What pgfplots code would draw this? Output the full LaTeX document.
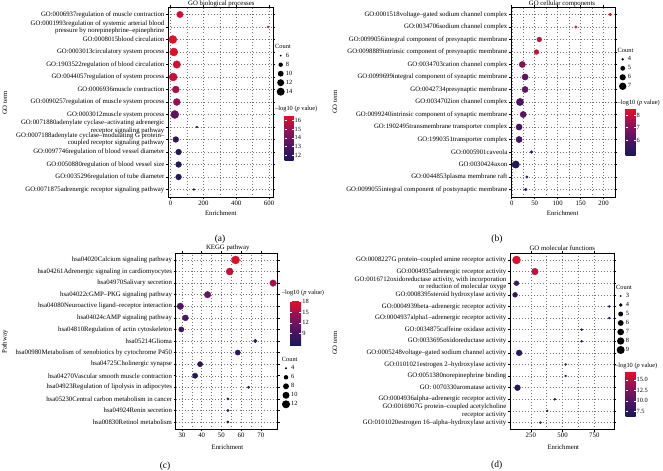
\documentclass[border=0pt]{standalone}
\usepackage{fontspec}
\setmainfont{Liberation Serif}
\usepackage{pgfplots}
\usepackage{pgfplotstable}
\pgfplotsset{compat=1.18}
\newcommand\fs{\fontsize{6.8}{7.3}\selectfont}
\newcommand\fl{\fontsize{6.4}{7}\selectfont}
\newcommand\fc{\fontsize{9.5}{11}\selectfont}

% y = row position counted from the bottom (top row = 15)
\pgfplotstableread{
x y c p
57 15 11 16.2
594 14 6 16.4
14 13 14 16.5
20 12 14 16.4
38 11 13 16.2
16 10 14 15.9
32 9 12 15.2
38 8 12 14.8
26 7 14 13.6
160 6 6 12.0
32 5 10 12.1
49 4 10 11.8
49 3 10 11.8
49 2 10 11.8
142 1 6 11.6
}\tabA
\pgfplotstableread{
x y c p
214.6 15 4 8.5
139.7 14 4 8.3
60 13 5 8.0
53.8 12 5 8.1
23 11 6 7.0
29 10 6 6.3
29 9 6 6.3
18 8 7 6.0
25 7 6 6.2
16 6 6 5.8
16 5 6 5.8
43 4 4 5.2
8.7 3 7 5.0
33 2 4 5.2
30.5 1 4 5.1
}\tabB
\pgfplotstableread{
x y c p
57.2 15 12 18
54.2 14 10 16.5
76.2 13 9 14.8
43 12 9 11.5
29.2 11 9 10.2
31.8 10 8 9.2
29.7 9 7 8.3
67.2 8 5 7.0
58.3 7 7 7.2
39.2 6 7 7.0
36.7 5 7 7.0
63.8 4 4 6.5
53.3 3 4 6.5
53.3 2 4 6.5
53.3 1 4 6.5
}\tabC
\pgfplotstableread{
x y c p
137 15 9 16.5
282 14 7 15.5
137 13 5 8.8
126 12 5 8.6
868 11 3 7.0
868 10 3 7.0
650 9 3 7.0
650 8 3 7.0
158 7 6 7.4
524 6 3 6.8
524 5 3 6.8
145 4 6 7.4
439 3 3 6.8
379 2 3 6.8
326 1 3 6.8
}\tabD

\pgfplotsset{
  colormap={bcm}{rgb255=(26,24,88) rgb255=(80,20,100) rgb255=(150,18,85) rgb255=(232,14,38)},
  cnt/.style={legend image code/.code={\path[draw=none,fill=none] (-4.2bp,-4.5bp) rectangle (4.2bp,4.5bp);\fill[black,draw=none] (0,0) circle[radius=#1];}},
  bub/.style={
    scale only axis, anchor=north west,
    ymin=0.4, ymax=15.6, ytick={1,...,15},
    grid=both, minor x tick num=1,
    grid style={black!55, line width=0.45pt, dash pattern=on 0.45pt off 2.6pt},
    tick align=outside, major tick length=2bp, minor tick length=0pt,
    tick style={black, line width=0.5pt},
    axis line style={black, line width=0.7pt},
    xticklabel style={font=\fs, inner sep=1.5bp},
    yticklabel style={font=\fs, align=right, inner sep=1.5bp},
    /pgf/number format/assume math mode=true,
    colormap name=bcm,
    clip=false,
    legend style={draw=none, fill=none, inner sep=0pt, outer sep=0pt, font=\fl,
      anchor=north west, nodes={inner sep=1bp}, row sep=0pt},
    legend cell align=left,
    colorbar,
  },
  cbar/.style={
    at={(parent axis.north east)}, anchor=north west,
    scale only axis,
    ytick pos=both, yticklabel pos=right,
    axis line style={draw=none},
    tick align=inside, major tick length=2bp,
    ytick style={white, line width=0.5pt},
    yticklabel style={font=\fl, inner sep=1bp},
    /pgf/number format/assume math mode=true,
  },
  sc/.style={scatter, only marks, mark=*, point meta=explicit, forget plot,
    scatter/use mapped color={draw=mapped color, fill=mapped color},
    scatter/@pre marker code/.append style={/tikz/mark size=\rad}},
}

\begin{document}
\begin{tikzpicture}
\useasboundingbox (0,0) rectangle (663bp,-471bp);

% ---------- (a)
\begin{axis}[bub, at={(168bp,-7bp)}, width=105bp, height=190bp,
  xmin=-15.5, xmax=624, xtick={0,200,400,600},
  point meta min=11.46, point meta max=16.6,
  colorbar style={cbar, xshift=3bp, yshift=-108bp, width=9bp, height=45bp, ytick={12,13,14,15,16}},
  legend style={at={(1.0333,0.7674)}},
  yticklabels={GO:0071875adrenergic receptor signaling pathway,
    GO:0035296regulation of tube diameter,
    GO:0050880regulation of blood vessel size,
    GO:0097746regulation of blood vessel diameter,
    {GO:0007188adenylate cyclase–modulating G protein–\\coupled receptor signaling pathway},
    {GO:0071880adenylate cyclase–activating adrenergic\\receptor signaling pathway},
    GO:0003012muscle system process,
    GO:0090257regulation of muscle system process,
    GO:0006936muscle contraction,
    GO:0044057regulation of system process,
    GO:1903522regulation of blood circulation,
    GO:0003013circulatory system process,
    GO:0008015blood circulation,
    {GO:0001993regulation of systemic arterial blood\\pressure by norepinephrine–epinephrine},
    GO:0006937regulation of muscle contraction}]
\addplot[sc, visualization depends on={sqrt(1+15*(\thisrow{c}-6)/8) \as \rad}]
  table[x=x, y=y, meta=p] {\tabA};
\addlegendimage{cnt=1bp}\addlegendentry{6}
\addlegendimage{cnt=2.18bp}\addlegendentry{8}
\addlegendimage{cnt=2.92bp}\addlegendentry{10}
\addlegendimage{cnt=3.5bp}\addlegendentry{12}
\addlegendimage{cnt=4bp}\addlegendentry{14}
\end{axis}

% ---------- (b)
\begin{axis}[bub, at={(511bp,-7bp)}, width=104bp, height=190bp,
  xmin=-1.6, xmax=224.9, xtick={0,50,100,150,200},
  point meta min=4.8, point meta max=8.56,
  colorbar style={cbar, xshift=2bp, yshift=-101bp, width=10bp, height=47bp, ytick={6,7,8}},
  legend style={at={(1.0337,0.7484)}},
  yticklabels={GO:0099055integral component of postsynaptic membrane,
    GO:0044853plasma membrane raft,
    GO:0030424axon,
    GO:0005901caveola,
    GO:1990351transporter complex,
    GO:1902495transmembrane transporter complex,
    GO:0099240intrinsic component of synaptic membrane,
    GO:0034702ion channel complex,
    GO:0042734presynaptic membrane,
    GO:0099699integral component of synaptic membrane,
    GO:0034703cation channel complex,
    GO:0098889intrinsic component of presynaptic membrane,
    GO:0099056integral component of presynaptic membrane,
    GO:0034706sodium channel complex,
    GO:0001518voltage–gated sodium channel complex}]
\addplot[sc, visualization depends on={sqrt(1.69+4*(\thisrow{c}-4)) \as \rad}]
  table[x=x, y=y, meta=p] {\tabB};
\addlegendimage{cnt=1.3bp}\addlegendentry{4}
\addlegendimage{cnt=2.39bp}\addlegendentry{5}
\addlegendimage{cnt=3.11bp}\addlegendentry{6}
\addlegendimage{cnt=3.7bp}\addlegendentry{7}
\end{axis}

% ---------- (c)
\begin{axis}[bub, at={(175.7bp,-253bp)}, width=102bp, height=176bp,
  xmin=26.85, xmax=78.55, xtick={30,40,50,60,70},
  point meta min=5.67, point meta max=18.48,
  colorbar style={cbar, xshift=4bp, yshift=-47bp, width=11bp, height=45bp, ytick={9,12,15,18}},
  legend style={at={(1.0402,0.3705)}},
  yticklabels={hsa00830Retinol metabolism,
    hsa04924Renin secretion,
    hsa05230Central carbon metabolism in cancer,
    hsa04923Regulation of lipolysis in adipocytes,
    hsa04270Vascular smooth muscle contraction,
    hsa04725Cholinergic synapse,
    hsa00980Metabolism of xenobiotics by cytochrome P450,
    hsa05214Glioma,
    hsa04810Regulation of actin cytoskeleton,
    hsa04024cAMP signaling pathway,
    hsa04080Neuroactive ligand–receptor interaction,
    hsa04022cGMP–PKG signaling pathway,
    hsa04970Salivary secretion,
    hsa04261Adrenergic signaling in cardiomyocytes,
    hsa04020Calcium signaling pathway}]
\addplot[sc, visualization depends on={sqrt(1.44+1.82*(\thisrow{c}-4)) \as \rad}]
  table[x=x, y=y, meta=p] {\tabC};
\addlegendimage{cnt=1.2bp}\addlegendentry{4}
\addlegendimage{cnt=2.25bp}\addlegendentry{6}
\addlegendimage{cnt=2.97bp}\addlegendentry{8}
\addlegendimage{cnt=3.5bp}\addlegendentry{10}
\addlegendimage{cnt=4bp}\addlegendentry{12}
\end{axis}

% ---------- (d)
\begin{axis}[bub, at={(510bp,-253bp)}, width=104bp, height=176.5bp,
  xmin=86, xmax=905, xtick={250,500,750},
  point meta min=6.4, point meta max=17.1,
  colorbar style={cbar, xshift=3bp, yshift=-118bp, width=10bp, height=45bp, ytick={7.5,10,12.5,15},
    yticklabel style={/pgf/number format/.cd, fixed, fixed zerofill, precision=1}},
  legend style={at={(1.024,0.7819)}},
  yticklabels={GO:0101020estrogen 16–alpha–hydroxylase activity,
    {GO:0016907G protein–coupled acetylcholine\\receptor activity},
    GO:0004936alpha–adrenergic receptor activity,
    GO: 0070330aromatase activity,
    GO:0051380norepinephrine binding,
    GO:0101021estrogen 2–hydroxylase activity,
    GO:0005248voltage–gated sodium channel activity,
    GO:0033695oxidoreductase activity,
    GO:0034875caffeine oxidase activity,
    GO:0004937alpha1–adrenergic receptor activity,
    GO:0004939beta–adrenergic receptor activity,
    GO:0008395steroid hydroxylase activity,
    {GO:0016712oxidoreductase activity, with incorporation\\or reduction of molecular oxyge},
    GO:0004935adrenergic receptor activity,
    GO:0008227G protein–coupled amine receptor activity}]
\addplot[sc, visualization depends on={sqrt(1+2.5*(\thisrow{c}-3)) \as \rad}]
  table[x=x, y=y, meta=p] {\tabD};
\addlegendimage{cnt=1bp}\addlegendentry{3}
\addlegendimage{cnt=1.87bp}\addlegendentry{4}
\addlegendimage{cnt=2.45bp}\addlegendentry{5}
\addlegendimage{cnt=2.92bp}\addlegendentry{6}
\addlegendimage{cnt=3.32bp}\addlegendentry{7}
\addlegendimage{cnt=3.67bp}\addlegendentry{8}
\addlegendimage{cnt=4bp}\addlegendentry{9}
\end{axis}

% ---------- texts
\begin{scope}[every node/.style={font=\fs, inner sep=0pt}]
\node at (221.3bp,-4bp) {GO biological processes};
\node at (562bp,-4bp) {GO cellular components};
\node at (227.8bp,-248.3bp) {KEGG pathway};
\node at (562.3bp,-248.3bp) {GO molecular functions};
\node at (220.8bp,-212.7bp) {Enrichment};
\node at (562.7bp,-212.7bp) {Enrichment};
\node at (227.5bp,-446.7bp) {Enrichment};
\node at (563.3bp,-446.7bp) {Enrichment};
\node[rotate=90] at (5bp,-103bp) {GO term};
\node[rotate=90] at (335bp,-102bp) {GO term};
\node[rotate=90] at (5bp,-342bp) {Pathway};
\node[rotate=90] at (335bp,-343bp) {GO term};
\end{scope}
\begin{scope}[every node/.style={font=\fl, inner sep=0pt, anchor=west}]
\node at (275bp,-46.7bp) {Count};
\node at (617.5bp,-50bp) {Count};
\node at (281.7bp,-359bp) {Count};
\node at (616bp,-287bp) {Count};
\node at (275bp,-109.3bp) {–log10 (\textit{p} value)};
\node at (617.5bp,-102.7bp) {–log10 (\textit{p} value)};
\node at (281.7bp,-293.3bp) {–log10 (\textit{p} value)};
\node at (615bp,-366bp) {–log10 (\textit{p} value)};
\end{scope}
\begin{scope}[every node/.style={font=\fc, inner sep=0pt}]
\node at (220bp,-239.3bp) {(a)};
\node at (497bp,-239.3bp) {(b)};
\node at (165bp,-466.7bp) {(c)};
\node at (496.7bp,-465.7bp) {(d)};
\end{scope}
\end{tikzpicture}
\end{document}
